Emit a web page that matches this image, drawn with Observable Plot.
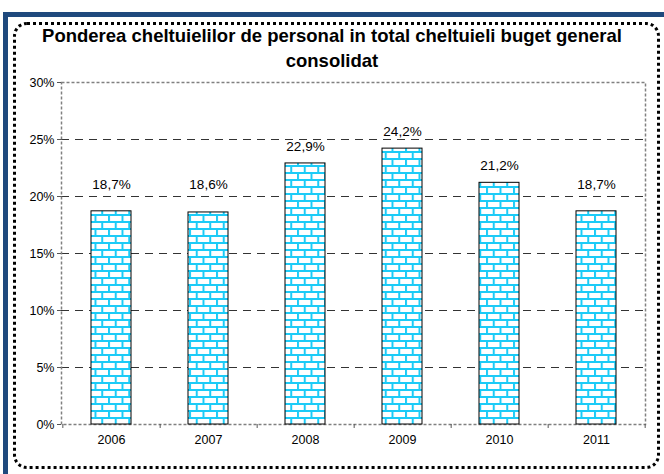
<!DOCTYPE html>
<html><head><meta charset="utf-8">
<script src="https://cdn.jsdelivr.net/npm/d3@7"></script>
<script src="https://cdn.jsdelivr.net/npm/@observablehq/plot@0.6"></script>
<style>
body{margin:0;background:#fff;font-family:"Liberation Sans",Arial,sans-serif;}
#wrap{position:relative;width:664px;height:474px;overflow:hidden;background:#fff;}
#blue{position:absolute;left:3px;top:12px;width:700px;height:500px;border-left:5px solid #1F497D;border-top:5px solid #1F497D;box-sizing:border-box;}
#dots{position:absolute;left:13px;top:22px;width:647px;height:447px;border:3px dotted #000;border-radius:14px;box-sizing:border-box;}
#title{position:absolute;left:0;top:23px;width:664px;text-align:center;font-weight:bold;font-size:18.5px;line-height:25px;color:#000;}
#chart{position:absolute;left:0;top:60px;}
#chart svg text{font-size:12.5px;fill:#000;}
#chart svg g[aria-label="text"] text{font-size:13.5px;}
</style></head>
<body><div id="wrap"><div id="blue"></div><div id="dots"></div>
<div id="title">Ponderea cheltuielilor de personal in total cheltuieli buget general<br>consolidat</div>
<div id="chart"></div></div>
<script>
const years = ["2006","2007","2008","2009","2010","2011"];
const values = [18.7, 18.6, 22.9, 24.2, 21.2, 18.7];
const valueLabels = ["18,7%","18,6%","22,9%","24,2%","21,2%","18,7%"];
const yTicks = [0,5,10,15,20,25,30];
const gridLines = [5,10,15,20,25];

const data = years.map((y,i)=>({year:y, value:values[i], label:valueLabels[i]}));
const W = 664, H = 410, ml = 61, mr = 19, mt = 22, mb = 46;
const step = (W - ml - mr) / years.length;
const unit = (H - mt - mb) / 30; // px per percent
// label placed ~17px above bar; nudged above a gridline when it would sit on it
function labelY(v) {
  let y = v + 17 / unit;
  for (const g of gridLines) if (Math.abs(y - g) < 6 / unit) y = g + 12 / unit;
  return y;
}

const chart = Plot.plot({
  width: W, height: H,
  marginLeft: ml, marginRight: mr, marginTop: mt, marginBottom: mb,
  style: {fontFamily: '"Liberation Sans", Arial, sans-serif', fontSize: "12.5px", color: "#000", background: "transparent"},
  x: {domain: years, paddingInner: 0.59, paddingOuter: 0.295, label: null},
  y: {domain: [0, 30], label: null},
  marks: [
    Plot.ruleY(gridLines, {stroke: "#333", strokeDasharray: "8,6", strokeWidth: 1}),
    Plot.frame({stroke: "#808080", strokeWidth: 1.5, strokeDasharray: "3,2"}),
    Plot.barY(data, {x: "year", y: "value", fill: "url(#brick)", stroke: "#000", strokeWidth: 1}),
    Plot.text(data, {x: "year", y: d => labelY(d.value), text: "label", fontSize: 13.5, fill: "#000"}),
    Plot.ruleX(years, {x: d => d, dx: step/2, y1: 0, y2: -0.35, stroke: "#555", strokeWidth: 1}),
    Plot.ruleX([years[0]], {x: d => d, dx: -step/2, y1: 0, y2: -0.35, stroke: "#555", strokeWidth: 1}),
    Plot.axisY({ticks: yTicks, tickFormat: d => d + "%", tickSize: 4, tickPadding: 3, stroke: "#555", fontSize: 12.5}),
    Plot.axisX({tickSize: 0, tickPadding: 11, fontSize: 12.5})
  ]
});
const ns = "http://www.w3.org/2000/svg";
const defs = document.createElementNS(ns, "defs");
defs.innerHTML = `<pattern id="brick" patternUnits="userSpaceOnUse" width="13.5" height="14">
  <rect width="13.5" height="14" fill="#ffffff"/>
  <rect x="0" y="0" width="13.5" height="2" fill="#1ccbf7"/>
  <rect x="0" y="7" width="13.5" height="2" fill="#1ccbf7"/>
  <rect x="0" y="0" width="2" height="7" fill="#1ccbf7"/>
  <rect x="6.75" y="7" width="2" height="7" fill="#1ccbf7"/>
</pattern>`;
chart.insertBefore(defs, chart.firstChild);
document.getElementById("chart").appendChild(chart);
</script></body></html>
